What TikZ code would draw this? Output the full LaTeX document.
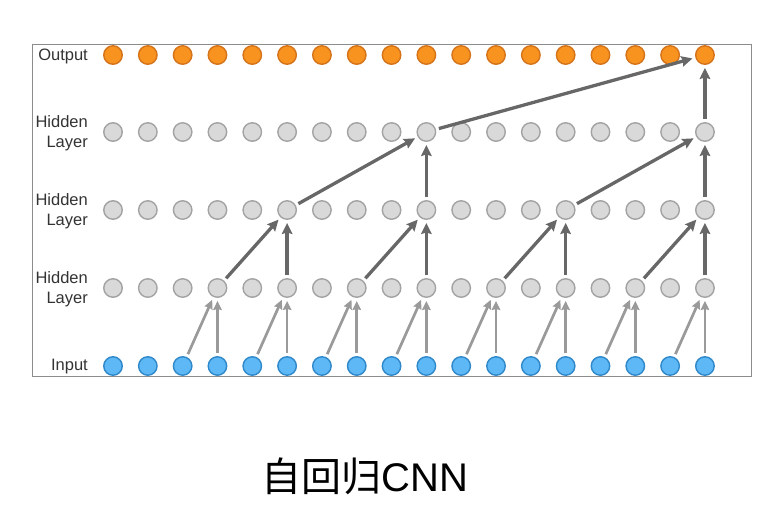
\documentclass[tikz,border=0pt]{standalone}
\usepackage{fontspec}
\setmainfont{Liberation Sans}
\newfontfamily\cjk{Noto Sans CJK SC}
\usetikzlibrary{arrows.meta}
\definecolor{outfill}{HTML}{F7931E}
\definecolor{outdraw}{HTML}{D4731A}
\definecolor{infill}{HTML}{5DB8F5}
\definecolor{indraw}{HTML}{2F88C9}
\definecolor{hidfill}{HTML}{D9D9D9}
\definecolor{hiddraw}{HTML}{A3A3A3}
\definecolor{lightarr}{HTML}{9A9A9A}
\definecolor{darkarr}{HTML}{676767}
\tikzset{
  unit/.style={circle, minimum size=18.5pt, inner sep=0pt, line width=1.4pt},
  outunit/.style={unit, fill=outfill, draw=outdraw},
  inunit/.style={unit, fill=infill, draw=indraw},
  hidunit/.style={unit, fill=hidfill, draw=hiddraw},
  rowlabel/.style={font=\fontsize{16.5}{20}\selectfont, text=black!80, align=right, anchor=east, inner sep=0pt},
  lowarrow/.style={draw=lightarr, line width=2.7pt, -{Stealth[length=9pt,width=8.5pt,inset=1pt]}, shorten >=3pt, shorten <=3pt},
  higharrow/.style={draw=darkarr, line width=3.3pt, -{Stealth[length=11pt,width=10.5pt,inset=1.5pt]}, shorten >=3pt, shorten <=3pt},
}
\begin{document}
\begin{tikzpicture}[x=1pt,y=-1pt]
\useasboundingbox (0,0) rectangle (772,531);
\node[draw=black!45, line width=0.9pt, minimum width=719pt, minimum height=332pt, inner sep=0pt, anchor=north west] (frame) at (32,44) {};
\foreach \i in {0,...,17} {
  \pgfmathsetmacro{\xx}{113+34.82*\i}
  \node[outunit] (o\i) at (\xx,55) {};
  \node[hidunit] (c\i) at (\xx,132) {};
  \node[hidunit] (b\i) at (\xx,210) {};
  \node[hidunit] (a\i) at (\xx,288) {};
  \node[inunit] (x\i) at (\xx,366) {};
}
\node[rowlabel] (lo) at (88,56) {Output};
\node[rowlabel] (lc) at (88,133) {Hidden\\Layer};
\node[rowlabel] (lb) at (88,211) {Hidden\\Layer};
\node[rowlabel] (la) at (88,289) {Hidden\\Layer};
\node[rowlabel] (li) at (88,367) {Input};
% input -> hidden 1
\foreach \i/\j in {3/2,5/4,7/6,9/8,11/10,13/12,15/14,17/16} {
  \draw[lowarrow] (x\j) -- (a\i);
  \draw[lowarrow] (x\i) -- (a\i);
}
% hidden 1 -> hidden 2
\foreach \i/\j in {5/3,9/7,13/11,17/15} {
  \draw[higharrow] (a\j) -- (b\i);
  \draw[higharrow] (a\i) -- (b\i);
}
% hidden 2 -> hidden 3
\foreach \i/\j in {9/5,17/13} {
  \draw[higharrow] (b\j) -- (c\i);
  \draw[higharrow] (b\i) -- (c\i);
}
% hidden 3 -> output
\draw[higharrow] (c9) -- (o17);
\draw[higharrow] (c17) -- (o17);
\node[inner sep=0pt] (cap) at (365,476) {{\cjk\fontsize{40}{44}\selectfont 自回归}{\fontsize{40}{44}\selectfont CNN}};
\end{tikzpicture}
\end{document}
